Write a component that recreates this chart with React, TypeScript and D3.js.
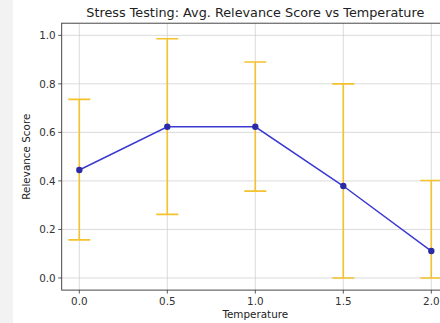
import React from "react";
import * as d3 from "d3";

const temperatures = [0.0, 0.5, 1.0, 1.5, 2.0];
const meanScores = [0.445, 0.623, 0.623, 0.379, 0.111];
const errLower = [0.288, 0.361, 0.265, 0.379, 0.111];
const errUpper = [0.291, 0.363, 0.267, 0.421, 0.291];
const xTicks = [0.0, 0.5, 1.0, 1.5, 2.0];
const yTicks = [0.0, 0.2, 0.4, 0.6, 0.8, 1.0];

const W = 440;
const H = 323;
const FONT = "DejaVu Sans, sans-serif";

export default function App() {
  const x = d3.scaleLinear().domain([-0.1, 2.1]).range([61.7, 448.9]);
  const y = d3.scaleLinear().domain([-0.05, 1.05]).range([290.1, 23.2]);
  const left = x(-0.1);
  const right = x(2.1);
  const top = y(1.05);
  const bottom = y(-0.05);

  const pts = temperatures.map((t, i) => ({ t, m: meanScores[i], lo: meanScores[i] - errLower[i], hi: meanScores[i] + errUpper[i] }));
  const line = d3
    .line<{ t: number; m: number }>()
    .x((d) => x(d.t))
    .y((d) => y(d.m));

  const errColor = "#f3c22c";
  const cap = 11;

  return (
    <div style={{ position: "fixed", left: 0, top: 0 }}>
      <svg width={W} height={H} style={{ display: "block", background: "#fff" }}>
        <rect x={0} y={0} width={13} height={H} fill="#f2f2f2" />
        <defs>
          <clipPath id="plotArea">
            <rect x={left} y={top} width={right - left} height={bottom - top} />
          </clipPath>
        </defs>
        <g clipPath="url(#plotArea)">
          {xTicks.map((t) => (
            <line key={"gx" + t} x1={x(t)} x2={x(t)} y1={top} y2={bottom} stroke="#d2d2d2" strokeWidth={0.8} />
          ))}
          {yTicks.map((t) => (
            <line key={"gy" + t} x1={left} x2={right} y1={y(t)} y2={y(t)} stroke="#d2d2d2" strokeWidth={0.8} />
          ))}
          {pts.map((p) => (
            <g key={"e" + p.t} stroke={errColor} strokeWidth={1.6}>
              <line x1={x(p.t)} x2={x(p.t)} y1={y(p.lo)} y2={y(p.hi)} />
              <line x1={x(p.t) - cap} x2={x(p.t) + cap} y1={y(p.lo)} y2={y(p.lo)} />
              <line x1={x(p.t) - cap} x2={x(p.t) + cap} y1={y(p.hi)} y2={y(p.hi)} />
            </g>
          ))}
          <path d={line(pts) || ""} fill="none" stroke="#3a3ad2" strokeWidth={1.5} />
          {pts.map((p) => (
            <circle key={"m" + p.t} cx={x(p.t)} cy={y(p.m)} r={3.2} fill="#2b2ba6" />
          ))}
        </g>
        <rect x={left} y={top} width={right - left} height={bottom - top} fill="none" stroke="#333" strokeWidth={0.9} />
        {xTicks.map((t) => (
          <g key={"xt" + t}>
            <line x1={x(t)} x2={x(t)} y1={bottom} y2={bottom + 3.5} stroke="#333" strokeWidth={0.8} />
            <text x={x(t)} y={bottom + 15} textAnchor="middle" fontFamily={FONT} fontSize={10.4} fill="#333">
              {d3.format(".1f")(t)}
            </text>
          </g>
        ))}
        {yTicks.map((t) => (
          <g key={"yt" + t}>
            <line x1={left - 3.5} x2={left} y1={y(t)} y2={y(t)} stroke="#333" strokeWidth={0.8} />
            <text x={left - 6} y={y(t) + 3.7} textAnchor="end" fontFamily={FONT} fontSize={10.4} fill="#333">
              {d3.format(".1f")(t)}
            </text>
          </g>
        ))}
        <text x={(left + right) / 2} y={17} textAnchor="middle" fontFamily={FONT} fontSize={12.8} fill="#222">
          Stress Testing: Avg. Relevance Score vs Temperature
        </text>
        <text x={(left + right) / 2} y={318} textAnchor="middle" fontFamily={FONT} fontSize={10.4} fill="#222">
          Temperature
        </text>
        <text
          transform={`translate(30,${(top + bottom) / 2}) rotate(-90)`}
          textAnchor="middle"
          fontFamily={FONT}
          fontSize={10.4}
          fill="#222"
        >
          Relevance Score
        </text>
      </svg>
    </div>
  );
}
